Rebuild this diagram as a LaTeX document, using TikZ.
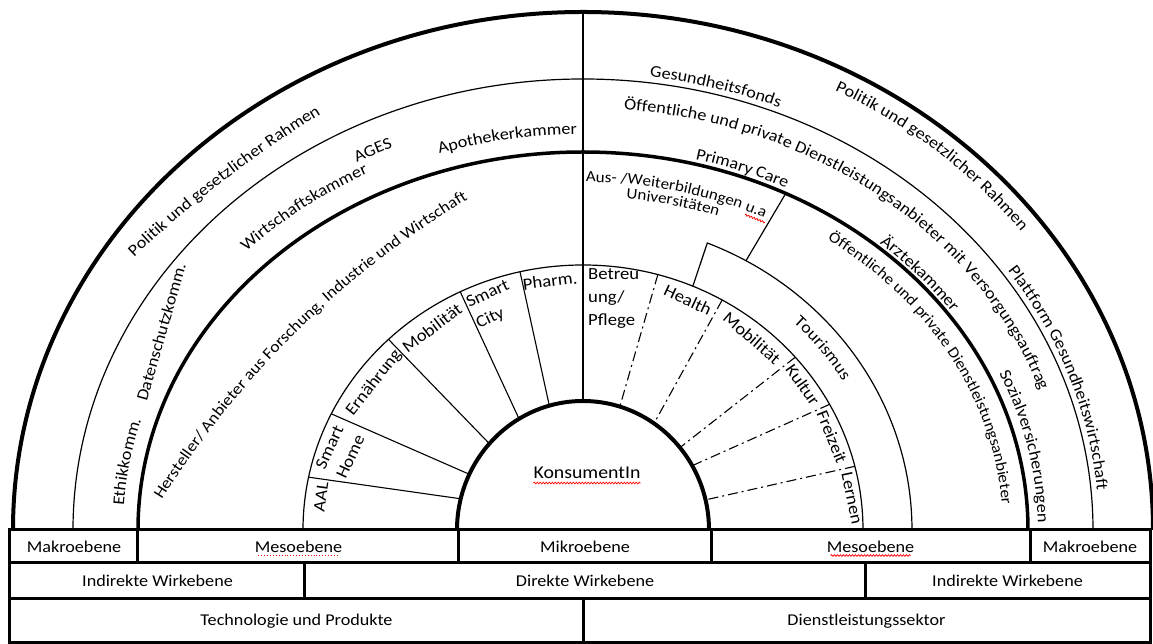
\documentclass[tikz,border=0pt]{standalone}
\usepackage{fontspec}
\setmainfont[FakeStretch=1.1]{Carlito}
\usetikzlibrary{decorations.text,decorations.pathmorphing,calc}

% text set along an elliptical arc around the common centre
% #1 align, #2 size, #3 x radius, #4 y radius, #5 start angle, #6 end angle, #7 text
\newcommand\ringtext[7][center]{%
  \path[decorate,decoration={text along path,text align=#1,
    text={|\fontsize{#2}{#2}\selectfont|#7}}]
    (#5:#3 and #4) arc[start angle=#5,end angle=#6,x radius=#3,y radius=#4];}

\begin{document}
\begin{tikzpicture}[x=1pt,y=1pt,
  heavy/.style={line width=3.5pt},
  light/.style={line width=1.2pt},
  segline/.style={line width=1.1pt},
  dashdot/.style={line width=1.1pt,dash pattern=on 10pt off 4pt on 2pt off 4pt},
  cell/.style={draw,line width=3pt,inner sep=0pt,font=\fontsize{16.5}{16.5}\selectfont},
  seglabel/.style={inner sep=0pt,font=\fontsize{17}{23}\selectfont},
  ringlabel/.style={inner sep=0pt,font=\fontsize{16.5}{16.5}\selectfont},
  spell/.style={red,line width=0.7pt,decorate,decoration={snake,amplitude=0.9pt,segment length=3pt}},
  spelldot/.style={red,line width=0.9pt,dotted}]
\useasboundingbox (-583,-114) rectangle (570,530);

% ---- table of levels ----
\node[cell,minimum width=128pt,minimum height=33pt] (mak1) at (-509,-16.5) {Makroebene};
\node[cell,minimum width=321pt,minimum height=33pt] (meso1) at (-284.5,-16.5) {Mesoebene};
\node[cell,minimum width=252pt,minimum height=33pt] (mikro) at (2,-16.5) {Mikroebene};
\node[cell,minimum width=319pt,minimum height=33pt] (meso2) at (287.5,-16.5) {Mesoebene};
\node[cell,minimum width=120pt,minimum height=33pt] (mak2) at (507,-16.5) {Makroebene};
\node[cell,minimum width=295pt,minimum height=36pt] (ind1) at (-425.5,-51) {Indirekte Wirkebene};
\node[cell,minimum width=560pt,minimum height=36pt] (dir) at (2,-51) {Direkte Wirkebene};
\node[cell,minimum width=285pt,minimum height=36pt] (ind2) at (424.5,-51) {Indirekte Wirkebene};
\node[cell,minimum width=573pt,minimum height=44pt] (tech) at (-286.5,-91) {Technologie und Produkte};
\node[cell,minimum width=567pt,minimum height=44pt] (dienst) at (283.5,-91) {Dienstleistungssektor};
\draw[spelldot] ($(meso1.center)+(-40,-9)$) -- ($(meso1.center)+(40,-9)$);
\draw[spell] ($(meso2.center)+(-40,-9)$) -- ($(meso2.center)+(40,-9)$);

% ---- rings ----
\draw[heavy,line width=4pt] (180:570 and 518) arc[start angle=180,end angle=0,x radius=570,y radius=518];
\draw[light] (180:510 and 451) arc[start angle=180,end angle=0,x radius=510,y radius=451];
\draw[heavy] (180:445 and 378) arc[start angle=180,end angle=0,x radius=445,y radius=378];
\draw[light] (180:280 and 265) arc[start angle=180,end angle=0,x radius=280,y radius=265];
\draw[heavy,line width=4pt] (180:126 and 129) arc[start angle=180,end angle=0,x radius=126,y radius=129];

% dividing line between products and services
\coordinate (top) at (0,518);
\coordinate (ktop) at (0,129);
\draw[light] (top) -- (ktop);

% tourism ring and its two dividers
\coordinate (tA) at (67.8:329 and 310);
\coordinate (iA) at (66.9:280 and 265);
\coordinate (tB) at (60.3:329 and 310);
\coordinate (oB) at (62.9:445 and 378);
\draw[light] (iA) -- (tA) arc[start angle=67.8,end angle=0,x radius=329,y radius=310];
\draw[light] (tB) -- (oB);

% segment dividers, technology side
\foreach \n/\a/\b in {1/168.5/166,2/154/154.4,3/134/138,4/116/120.5,5/103/105.5}{
  \coordinate (lo\n) at (\a:280 and 265);
  \coordinate (li\n) at (\b:126 and 129);
  \draw[segline] (lo\n) -- (li\n);
}
% segment dividers, service side
\foreach \n/\a/\b in {1/74.5/73,2/60.2/55.7,3/40.7/39.7,4/28.3/29.9,5/13.9/13.5}{
  \coordinate (ro\n) at (\a:280 and 265);
  \coordinate (ri\n) at (\b:126 and 129);
  \draw[dashdot] (ro\n) -- (ri\n);
}

% ---- centre ----
\node[inner sep=0pt,font=\fontsize{18}{18}\selectfont] (kons) at (4,57) {KonsumentIn};
\draw[spell] ([yshift=-4pt]kons.south west) -- ([yshift=-4pt]kons.south east);

% ---- segment labels ----
\node[seglabel,rotate=82] (aal) at (-262,33) {AAL};
\node[seglabel,rotate=65,align=left] (shome) at (-243,78) {Smart\\Home};
\node[seglabel,rotate=52] (ern) at (-209,147) {Ernährung};
\node[seglabel,rotate=37] (mobl) at (-151,202) {Mobilität};
\node[seglabel,rotate=25,align=left] (scity) at (-90,225) {Smart\\City};
\node[seglabel,rotate=7] (pharm) at (-33,249) {Pharm.};
\node[seglabel,align=left,anchor=north west] (betr) at (5,262) {Betreu\\ung/\\Pflege};
\node[seglabel,rotate=-25] (health) at (105,230) {Health};
\node[seglabel,rotate=-41] (mobr) at (169,192) {Mobilität};
\node[seglabel,rotate=-55] (kultur) at (220,145) {Kultur};
\node[seglabel,rotate=-68] (frei) at (249,93) {Freizeit};
\node[seglabel,rotate=-78] (lern) at (269,32) {Lernen};

% ---- outer ring texts ----
\path[decorate,decoration={text along path,text align=center,
  text={|\fontsize{16.5}{16.5}\selectfont|Politik und gesetzlicher Rahmen}}]
  (336,-557) ++(136:1142) arc[start angle=136,end angle=119,radius=1142];
\ringtext{16.5}{549}{495}{74.5}{24.5}{Politik und gesetzlicher Rahmen}
\ringtext{16.5}{515}{457}{90}{60}{Gesundheitsfonds}
\ringtext{16.5}{516}{457}{44.5}{-5.5}{Plattform Gesundheitswirtschaft}

% ---- middle ring texts ----
\ringtext{16.5}{460}{395}{182}{158.4}{Ethikkomm.}
\node[ringlabel,rotate=74] (dsk) at (-422,198) {Datenschutzkomm.};
\ringtext{16.5}{466}{402}{142}{112}{Wirtschaftskammer}
\ringtext{16.5}{479}{417}{121.8}{109.8}{AGES}
\ringtext{16.5}{460}{396}{111.5}{87.5}{Apothekerkammer}
\ringtext{16.5}{484}{422}{91.8}{11.8}{Öffentliche und private Dienstleistungsanbieter mit Versorgungsauftrag}
\ringtext{16.5}{450}{383}{79.3}{59.3}{Primary Care}
\ringtext{16.5}{449}{382}{51.6}{31.6}{Ärztekammer}
\ringtext{16.5}{455}{388}{27.4}{-2.6}{Sozialversicherungen}

% ---- inner ring texts ----
\path[decorate,decoration={text along path,text align=center,
  text={|\fontsize{16}{16}\selectfont|Hersteller/ Anbieter aus Forschung, Industrie und Wirtschaft}}]
  (366,-465) ++(151.5:930) arc[start angle=151.5,end angle=117.5,radius=930];
\ringtext[left]{15.5}{410}{348}{89.6}{40}{Aus- /Weiterbildungen u.a}
\ringtext[left]{15.5}{407}{333}{83.9}{50}{Universitäten}
\coordinate (ua1) at (66.5:406 and 344);
\coordinate (ua2) at (63.4:406 and 344);
\draw[spell] (ua1) -- (ua2);
\ringtext{15.5}{420}{357}{59}{-1}{Öffentliche und private Dienstleistungsanbieter}
\ringtext{16.5}{304}{287}{50.7}{26.7}{Tourismus}
\end{tikzpicture}
\end{document}
